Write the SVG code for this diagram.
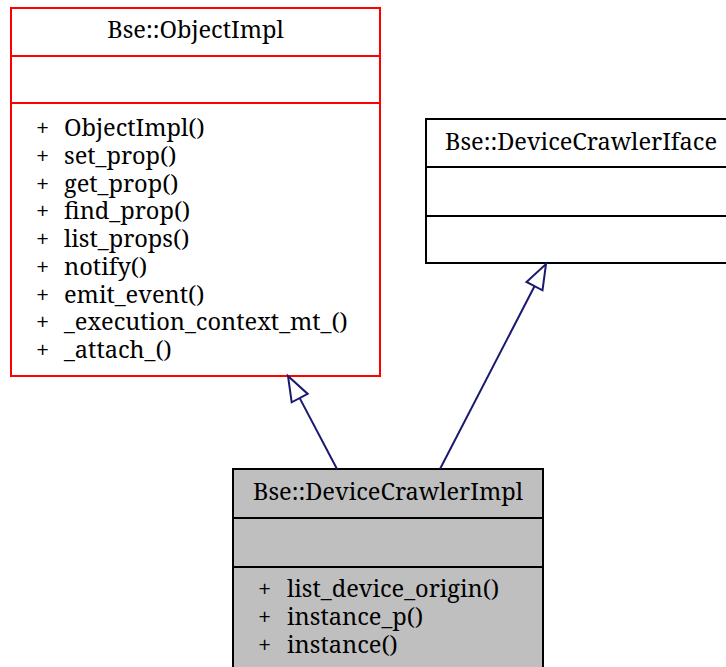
<svg xmlns="http://www.w3.org/2000/svg" width="726" height="667" viewBox="0 0 726 667">
  <style>
    text { font-family: "Noto Serif", "DejaVu Serif", serif; font-size: 23.6px; fill: #000; }
    .mid { text-anchor: middle; }
    .box { fill: #fff; stroke: #000; stroke-width: 2; }
    .red { fill: #fff; stroke: #ff0000; stroke-width: 2; }
    .cur { fill: #bfbfbf; stroke: #000; stroke-width: 2; }
    .sep { stroke: #000; stroke-width: 2; }
    .sepr { stroke: #ff0000; stroke-width: 2; }
    .edge { stroke: #191970; stroke-width: 2; fill: none; }
    .head { stroke: #191970; stroke-width: 2; fill: #fff; }
  </style>
  <rect width="726" height="667" fill="#fff"/>

  <g id="node_ObjectImpl">
    <rect class="red" x="11" y="8" width="369" height="368"/>
    <line class="sepr" x1="11" y1="56" x2="380" y2="56"/>
    <line class="sepr" x1="11" y1="103" x2="380" y2="103"/>
    <text class="mid" x="195.5" y="38">Bse::ObjectImpl</text>
    <text x="36" y="136">+<tspan x="64">ObjectImpl()</tspan></text>
    <text x="36" y="163.75">+<tspan x="64">set_prop()</tspan></text>
    <text x="36" y="191.5">+<tspan x="64">get_prop()</tspan></text>
    <text x="36" y="219.25">+<tspan x="64">find_prop()</tspan></text>
    <text x="36" y="247">+<tspan x="64">list_props()</tspan></text>
    <text x="36" y="274.75">+<tspan x="64">notify()</tspan></text>
    <text x="36" y="302.5">+<tspan x="64">emit_event()</tspan></text>
    <text x="36" y="330.25">+<tspan x="64">_execution_context_mt_()</tspan></text>
    <text x="36" y="358">+<tspan x="64">_attach_()</tspan></text>
  </g>

  <g id="node_DeviceCrawlerIface">
    <rect class="box" x="426" y="119" width="310" height="144"/>
    <line class="sep" x1="426" y1="167" x2="736" y2="167"/>
    <line class="sep" x1="426" y1="216" x2="736" y2="216"/>
    <text class="mid" x="581" y="150">Bse::DeviceCrawlerIface</text>
  </g>

  <g id="node_DeviceCrawlerImpl">
    <rect class="cur" x="233" y="469" width="310" height="210"/>
    <line class="sep" x1="233" y1="518" x2="543" y2="518"/>
    <line class="sep" x1="233" y1="567" x2="543" y2="567"/>
    <text class="mid" x="388" y="500">Bse::DeviceCrawlerImpl</text>
    <text x="258" y="597">+<tspan x="287">list_device_origin()</tspan></text>
    <text x="258" y="625">+<tspan x="287">instance_p()</tspan></text>
    <text x="258" y="653">+<tspan x="287">instance()</tspan></text>
  </g>

  <g id="edges">
    <path class="edge" d="M337,469 L299.7,398.1"/>
    <polygon class="head" points="288,376 307.7,393.9 291.7,402.3"/>
    <path class="edge" d="M440,469 L534.5,286.2"/>
    <polygon class="head" points="546,264 542.5,290.3 526.5,282"/>
  </g>
</svg>
